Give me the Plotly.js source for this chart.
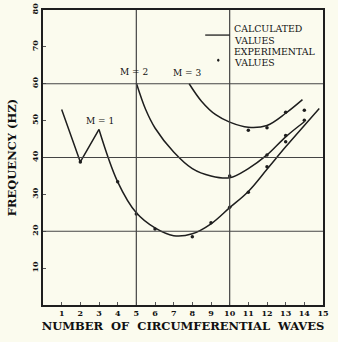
<!DOCTYPE html>
<html>
<head>
<meta charset="utf-8">
<script src="https://cdn.plot.ly/plotly-3.0.1.min.js"></script>
<style>html,body{margin:0;padding:0;background:#fbfbee;}</style>
</head>
<body>
<div id="chart" style="width:338px;height:342px;"></div>
<script>
// Calculated curves
const m1StartX = [1, 2, 3];
const m1StartY = [53, 38.8, 47.6];
const m1CurveX = [3, 4, 5, 6, 7, 8, 9, 10, 11, 12, 13, 14, 14.8];
const m1CurveY = [47.6, 33.4, 25, 20.9, 18.8, 19.3, 22, 26.4, 30.8, 36.8, 42.9, 48.7, 53.3];
const m2CurveX = [5, 5.5, 6, 7, 8, 9, 10, 11, 12, 13, 14];
const m2CurveY = [60.2, 53, 48, 41.5, 37, 35, 34.5, 37, 40.7, 45.6, 49.7];
const m3CurveX = [7.83, 8.5, 9.25, 10, 11, 12, 13, 13.9];
const m3CurveY = [60, 55.2, 51.6, 49.6, 48.2, 48.7, 52, 55.7];
// Experimental points
const m1PtX = [2, 4, 5, 6, 8, 9, 10, 11, 12, 13, 14];
const m1PtY = [38.8, 33.4, 24.7, 20.6, 18.5, 22.3, 26.5, 30.6, 37.5, 44.3, 50.1];
const m2PtX = [10, 12, 13, 14];
const m2PtY = [35, 40.7, 46, 52.8];
const m3PtX = [11, 12, 13];
const m3PtY = [47.4, 48.1, 52.3];
// Ticks
const xTicks = [1,2,3,4,5,6,7,8,9,10,11,12,13,14,15];
const yTicks = [10,20,30,40,50,60,70,80];
const xGrid = [5, 10];
const yGrid = [20, 40, 60];

const ink = '#1e1e1e';
const lineStyle = {color: ink, width: 1.5};
const markerStyle = {color: ink, size: 3.5};

const traces = [
  {x: m1StartX, y: m1StartY, mode: 'lines', line: Object.assign({shape: 'linear'}, lineStyle)},
  {x: m1CurveX, y: m1CurveY, mode: 'lines', line: Object.assign({shape: 'spline', smoothing: 1}, lineStyle)},
  {x: m2CurveX, y: m2CurveY, mode: 'lines', line: Object.assign({shape: 'spline', smoothing: 1}, lineStyle)},
  {x: m3CurveX, y: m3CurveY, mode: 'lines', line: Object.assign({shape: 'spline', smoothing: 1}, lineStyle)},
  {x: m1PtX, y: m1PtY, mode: 'markers', marker: markerStyle},
  {x: m2PtX, y: m2PtY, mode: 'markers', marker: markerStyle},
  {x: m3PtX, y: m3PtY, mode: 'markers', marker: markerStyle}
];

const serif = 'DejaVu Serif, Liberation Serif, serif';
const shapes = [];
xGrid.forEach(v => shapes.push({type: 'line', xref: 'x', yref: 'y', x0: v, x1: v, y0: 0, y1: 80, line: {color: '#444', width: 1.2}}));
yGrid.forEach(v => shapes.push({type: 'line', xref: 'x', yref: 'y', x0: 0, x1: 15, y0: v, y1: v, line: {color: '#444', width: 1.2}}));
// legend sample line and dot
shapes.push({type: 'line', xref: 'x', yref: 'y', x0: 8.69, x1: 10, y0: 73.2, y1: 73.2, line: {color: ink, width: 1.3}});
shapes.push({type: 'circle', xref: 'x', yref: 'y', x0: 9.33, x1: 9.45, y0: 66.0, y1: 66.8, fillcolor: ink, line: {color: ink, width: 0}});

const ann = (text, x, y, size, anchor) => ({text: text, x: x, y: y, xref: 'x', yref: 'y', showarrow: false,
  xanchor: anchor || 'center', yanchor: 'middle', font: {family: serif, size: size, color: '#111'}});

const annotations = [
  ann('M = 1', 3.07, 50, 9),
  ann('M = 2', 4.9, 63.1, 9),
  ann('M = 3', 7.7, 63, 9),
  ann('CALCULATED', 10.12, 74.9, 9.4, 'left'),
  ann('VALUES', 10.12, 71.8, 9.4, 'left'),
  ann('EXPERIMENTAL', 10.12, 68.8, 9.4, 'left'),
  ann('VALUES', 10.12, 65.8, 9.4, 'left')
];

const layout = {
  width: 338, height: 342,
  margin: {l: 43, r: 15, t: 10, b: 37},
  paper_bgcolor: '#fbfbee', plot_bgcolor: '#fbfbee',
  showlegend: false,
  xaxis: {
    range: [0, 15], tickvals: xTicks, ticks: 'inside', ticklen: 3, tickcolor: '#555',
    showgrid: false, zeroline: false, showline: true, mirror: true, linecolor: ink, linewidth: 1.6,
    tickfont: {family: serif, size: 8, color: '#111', weight: 'bold'},
    title: {text: '<b>NUMBER\u00a0 OF\u00a0 CIRCUMFERENTIAL\u00a0 WAVES</b>', font: {family: serif, size: 11.5, color: '#111'}, standoff: 5}
  },
  yaxis: {
    range: [0, 80], tickvals: yTicks, ticks: 'inside', ticklen: 3, tickcolor: '#555', tickangle: -90,
    showgrid: false, zeroline: false, showline: true, mirror: true, linecolor: ink, linewidth: 1.6,
    tickfont: {family: serif, size: 8, color: '#111', weight: 'bold'},
    title: {text: '<b>FREQUENCY (HZ)</b>', font: {family: serif, size: 11.5, color: '#111'}, standoff: 11}
  },
  shapes: shapes,
  annotations: annotations
};

Plotly.newPlot('chart', traces, layout, {staticPlot: true, displayModeBar: false});
</script>
</body>
</html>
